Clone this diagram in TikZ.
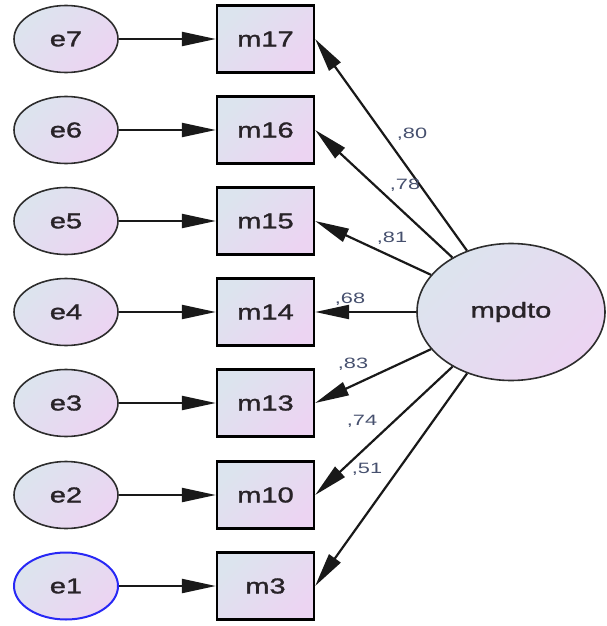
\documentclass[tikz,border=0pt]{standalone}
\usepackage{fontspec}
\newfontfamily\nodefont[FakeStretch=1.35,FakeBold=1.5]{Liberation Sans}
\newfontfamily\lblfont[FakeStretch=1.45]{Liberation Sans}
\usetikzlibrary{arrows.meta,shapes.geometric}
\definecolor{shadeA}{RGB}{220,228,238}
\definecolor{shadeB}{RGB}{236,212,242}
\definecolor{ellc}{RGB}{45,45,45}
\definecolor{errblue}{RGB}{40,40,245}
\definecolor{txtc}{RGB}{40,35,40}
\definecolor{lblc}{RGB}{70,80,110}
\begin{document}
\begin{tikzpicture}[x=1pt,y=-1pt,
  fillsh/.style={top color=shadeA, bottom color=shadeB, shading angle=45},
  errnode/.style={ellipse, draw=ellc, line width=1.6pt, minimum width=104pt, minimum height=67pt, fillsh, inner sep=0pt, text=txtc, font=\nodefont\fontsize{21.5}{24}\selectfont},
  obsnode/.style={rectangle, draw=black, line width=2.3pt, minimum width=97pt, minimum height=67pt, fillsh, inner sep=0pt, text=txtc, font=\nodefont\fontsize{21.5}{24}\selectfont},
  latnode/.style={ellipse, draw=ellc, line width=1.6pt, minimum width=188pt, minimum height=137pt, fillsh, inner sep=0pt, text=txtc, font=\nodefont\fontsize{21.5}{24}\selectfont},
  arr/.style={draw=black!90, line width=2.2pt, -{Triangle[length=34pt,width=14pt]}},
  lbl/.style={text=lblc, inner sep=0pt, font=\lblfont\fontsize{15}{17}\selectfont}]
\useasboundingbox (0,0) rectangle (607,626);
% error terms
\node[errnode] (e7) at (66,39) {e7};
\node[errnode] (e6) at (66,130) {e6};
\node[errnode] (e5) at (66,221) {e5};
\node[errnode] (e4) at (66,312) {e4};
\node[errnode] (e3) at (66,403) {e3};
\node[errnode] (e2) at (66,495) {e2};
\node[errnode, draw=errblue, line width=2pt] (e1) at (66,586) {e1};
% observed
\node[obsnode] (m17) at (265.5,39) {m17};
\node[obsnode] (m16) at (265.5,130) {m16};
\node[obsnode] (m15) at (265.5,221) {m15};
\node[obsnode] (m14) at (265.5,312) {m14};
\node[obsnode] (m13) at (265.5,403) {m13};
\node[obsnode] (m10) at (265.5,495) {m10};
\node[obsnode] (m3) at (265.5,586) {m3};
% latent
\node[latnode] (mpdto) at (511,312) {mpdto};
% error arrows
\draw[arr] (e7) -- (m17);
\draw[arr] (e6) -- (m16);
\draw[arr] (e5) -- (m15);
\draw[arr] (e4) -- (m14);
\draw[arr] (e3) -- (m13);
\draw[arr] (e2) -- (m10);
\draw[arr] (e1) -- (m3);
% loadings
\draw[arr] (mpdto) -- (m17.east);
\draw[arr] (mpdto) -- (m16.east);
\draw[arr] (mpdto) -- (m15.east);
\draw[arr] (mpdto) -- (m14.east);
\draw[arr] (mpdto) -- (m13.east);
\draw[arr] (mpdto) -- (m10.east);
\draw[arr] (mpdto) -- (m3.east);
% labels
\node[lbl] (l17) at (412,134) {,80};
\node[lbl] (l16) at (405,185) {,78};
\node[lbl] (l15) at (392,238) {,81};
\node[lbl] (l14) at (350,299) {,68};
\node[lbl] (l13) at (353,364) {,83};
\node[lbl] (l10) at (362,421) {,74};
\node[lbl] (l3) at (367,469) {,51};
\end{tikzpicture}
\end{document}
